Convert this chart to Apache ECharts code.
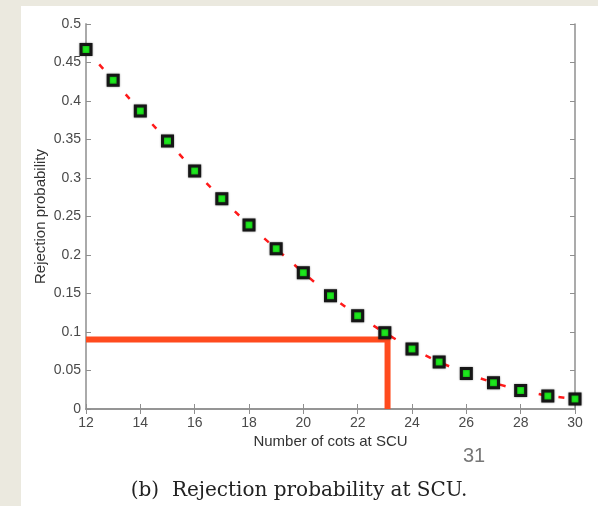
<!DOCTYPE html>
<html>
<head>
<meta charset="utf-8">
<script src="https://cdn.jsdelivr.net/npm/echarts@6/dist/echarts.min.js"></script>
<style>
  html, body { margin: 0; padding: 0; background: #ebe9df; }
  #chart { width: 598px; height: 506px; }
</style>
</head>
<body>
<div id="chart"></div>
<script>
// number of cots at SCU and the rejection probability
var cots = [12, 13, 14, 15, 16, 17, 18, 19, 20, 21, 22, 23, 24, 25, 26, 27, 28, 29, 30];
var rejection = [0.467, 0.427, 0.387, 0.348, 0.309, 0.273, 0.239, 0.208, 0.177, 0.147,
    0.121, 0.099, 0.078, 0.061, 0.046, 0.034, 0.024, 0.017, 0.013];

// orange guide: target probability and the cots needed for it
var targetProb = 0.0903;
var cotsNeeded = 23.1;

var xTicks = [12, 14, 16, 18, 20, 22, 24, 26, 28, 30];
var yTicks = [0, 0.05, 0.1, 0.15, 0.2, 0.25, 0.3, 0.35, 0.4, 0.45, 0.5];

var axisGray = '#8f8f8f';
var labelFont = { color: '#4a4a4a', fontSize: 14, fontFamily: 'Liberation Sans, Arial, sans-serif' };

function createChart() {
    var myChart = echarts.init(document.getElementById('chart'));

    var points = cots.map(function (c, i) { return [c, rejection[i]]; });
    var guide = [[xTicks[0], targetProb], [cotsNeeded, targetProb], [cotsNeeded, yTicks[0]]];

    var option = {
        backgroundColor: '#ebe9df',
        animation: false,
        graphic: [
            {
                type: 'rect',
                z: -10,
                shape: { x: 21, y: 6, width: 577, height: 500 },
                style: { fill: '#ffffff' }
            },
            {
                type: 'text',
                left: 463,
                top: 446,
                style: {
                    text: '31',
                    fill: '#777',
                    font: '20px "Liberation Sans", Arial, sans-serif'
                }
            },
            {
                type: 'text',
                left: 'center',
                top: 481,
                style: {
                    text: '(b)  Rejection probability at SCU.',
                    fill: '#222',
                    font: '20px "DejaVu Serif", "Liberation Serif", serif'
                }
            }
        ],
        grid: {
            left: 86,
            right: 23,
            top: 24,
            bottom: 97
        },
        xAxis: [
            {
                type: 'value',
                min: 12,
                max: 30,
                interval: 2,
                name: 'Number of cots at SCU',
                nameLocation: 'middle',
                nameGap: 25,
                nameMoveOverlap: false,
                nameTextStyle: { color: '#333', fontSize: 15, fontFamily: 'Liberation Sans, Arial, sans-serif' },
                axisLine: { lineStyle: { color: axisGray, width: 1.5 } },
                axisTick: { inside: true, length: 5, lineStyle: { color: axisGray } },
                axisLabel: Object.assign({ margin: 7 }, labelFont),
                splitLine: { show: false }
            },
            {
                type: 'value',
                position: 'top',
                min: 12,
                max: 30,
                interval: 2,
                axisLine: { show: true, lineStyle: { color: axisGray, width: 1.5 } },
                axisTick: { inside: true, length: 5, lineStyle: { color: axisGray } },
                axisLabel: { show: false },
                splitLine: { show: false }
            }
        ],
        yAxis: [
            {
                type: 'value',
                min: 0,
                max: 0.5,
                interval: 0.05,
                name: 'Rejection probability',
                nameLocation: 'middle',
                nameGap: 38,
                nameMoveOverlap: false,
                nameTextStyle: { color: '#333', fontSize: 15, fontFamily: 'Liberation Sans, Arial, sans-serif' },
                axisLine: { show: true, lineStyle: { color: '#aaaaaa', width: 2 } },
                axisTick: { show: true, inside: true, length: 5, lineStyle: { color: axisGray } },
                axisLabel: Object.assign({ margin: 5 }, labelFont),
                splitLine: { show: false }
            },
            {
                type: 'value',
                position: 'right',
                min: 0,
                max: 0.5,
                interval: 0.05,
                axisLine: { show: true, lineStyle: { color: axisGray, width: 1.5 } },
                axisTick: { show: true, inside: true, length: 5, lineStyle: { color: axisGray } },
                axisLabel: { show: false },
                splitLine: { show: false }
            }
        ],
        series: [
            {
                name: 'guide',
                type: 'line',
                data: guide,
                showSymbol: false,
                z: 2,
                lineStyle: { color: '#ff4b1e', width: 6, cap: 'butt', join: 'miter' }
            },
            {
                name: 'Rejection probability',
                type: 'line',
                data: points,
                z: 5,
                symbol: 'rect',
                symbolSize: 10,
                showAllSymbol: true,
                lineStyle: { color: '#ff1a1a', width: 2.5, type: [6, 14] },
                itemStyle: {
                    color: '#1de81d',
                    borderColor: '#161616',
                    borderWidth: 3,
                    shadowColor: 'rgba(0,0,0,0.45)',
                    shadowBlur: 2
                }
            }
        ]
    };

    myChart.setOption(option);
}

createChart();
</script>
</body>
</html>
